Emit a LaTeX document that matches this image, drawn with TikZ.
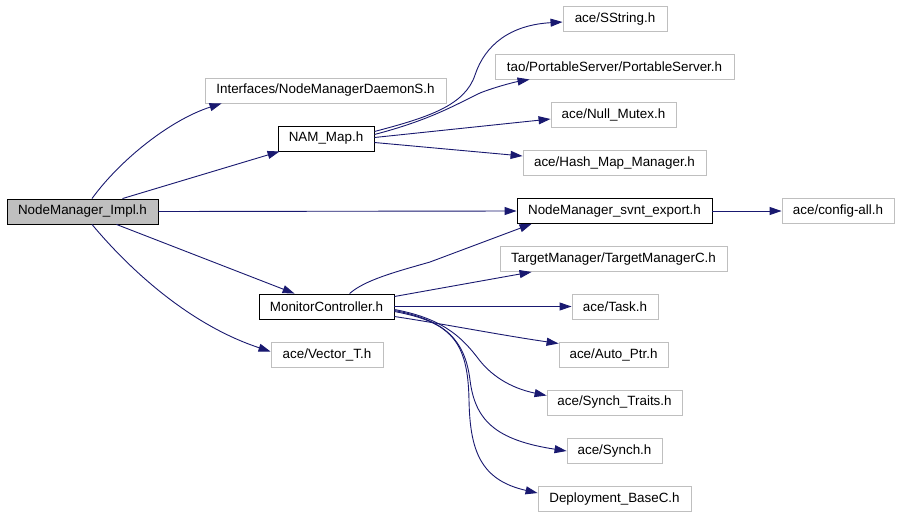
\documentclass[tikz,border=0pt]{standalone}
\usepackage{fontspec}
\setmainfont{Liberation Sans}
\usetikzlibrary{arrows.meta}
\definecolor{edgec}{HTML}{191970}
\definecolor{leafc}{HTML}{BFBFBF}
\tikzset{
  box/.style={draw, rectangle, inner sep=0pt, minimum height=25pt, line width=0.9pt, font=\fontsize{13.4}{15}\selectfont, text=black},
  leaf/.style={box, draw=leafc},
  inner/.style={box, draw=black},
  root/.style={box, draw=black, fill=leafc},
  edge/.style={draw=edgec, line width=0.9pt, -{Triangle[length=12pt,width=8pt]}, fill=none},
}
\begin{document}
\begin{tikzpicture}[x=1pt,y=-1pt]
\useasboundingbox (0,0) rectangle (899,515);
\fill[white] (0,0) rectangle (899,515);
% nodes
\node[root, minimum width=151pt] (impl) at (82.5,211.5) {NodeManager\_Impl.h};
\node[leaf, minimum width=241pt] (daemon) at (325.5,90.5) {Interfaces/NodeManagerDaemonS.h};
\node[inner, minimum width=96pt] (nam) at (326,138.5) {NAM\_Map.h};
\node[leaf, minimum width=104pt] (sstring) at (615,19) {ace/SString.h};
\node[leaf, minimum width=239pt] (ps) at (614.5,66.5) {tao/PortableServer/PortableServer.h};
\node[leaf, minimum width=125pt] (null) at (613.5,115) {ace/Null\_Mutex.h};
\node[leaf, minimum width=183pt] (hash) at (614.5,163) {ace/Hash\_Map\_Manager.h};
\node[inner, minimum width=195pt] (svnt) at (614.5,211) {NodeManager\_svnt\_export.h};
\node[leaf, minimum width=112pt] (config) at (838,211) {ace/config-all.h};
\node[leaf, minimum width=227pt] (tm) at (613.5,259) {TargetManager/TargetManagerC.h};
\node[inner, minimum width=135pt] (mc) at (326.5,306.5) {MonitorController.h};
\node[leaf, minimum width=86pt] (task) at (615,306.5) {ace/Task.h};
\node[leaf, minimum width=112pt] (vector) at (327,354.5) {ace/Vector\_T.h};
\node[leaf, minimum width=109pt] (auto) at (613.5,354.5) {ace/Auto\_Ptr.h};
\node[leaf, minimum width=135pt] (st) at (614.5,402.5) {ace/Synch\_Traits.h};
\node[leaf, minimum width=95pt] (synch) at (614.5,451) {ace/Synch.h};
\node[leaf, minimum width=153pt] (deploy) at (614.5,499) {Deployment\_BaseC.h};
% edges from impl
\draw[edge] ([xshift=9.5pt]impl.north) .. controls (120,160) and (170,120) .. ([xshift=17pt]daemon.south west);
\draw[edge] ([xshift=40pt]impl.north) -- ([xshift=2pt]nam.south west);
\draw[edge] (impl.east) -- (svnt.west);
\draw[edge] ([xshift=34pt]impl.south) -- ([xshift=36pt]mc.north west);
\draw[edge] ([xshift=9.5pt]impl.south) .. controls (130,270) and (190,325) .. ([yshift=3pt]vector.west);
% edges from nam
\draw[edge] ([yshift=7pt]nam.east) .. controls (430,117) and (465,105) .. (475,75) .. controls (485,45) and (510,25) .. ([yshift=-3pt]sstring.west);
\draw[edge] ([yshift=4pt]nam.east) .. controls (430,120) and (455,105) .. (480,93) .. controls (495,87) and (515,82) .. ([xshift=35pt]ps.south west);
\draw[edge] ([yshift=1pt]nam.east) -- ([yshift=-4pt]null.west);
\draw[edge] ([yshift=-4pt]nam.east) -- ([yshift=7pt]hash.west);
% svnt
\draw[edge] (svnt.east) -- (config.west);
% edges from mc
\draw[edge] ([xshift=91pt]mc.north west) .. controls (365,280) and (395,272) .. (430,262) -- ([xshift=15pt]svnt.south west);
\draw[edge] ([yshift=10pt]mc.east) -- ([xshift=32pt]tm.south west);
\draw[edge] (mc.east) -- (task.west);
\draw[edge] ([yshift=-10pt]mc.east) .. controls (450,325) and (500,335) .. ([yshift=11pt]auto.west);
\draw[edge] ([yshift=-3pt]mc.east) .. controls (440,318) and (460,335) .. (477,357) .. controls (490,375) and (510,388) .. ([yshift=7pt]st.west);
\draw[edge] ([yshift=-4pt]mc.east) .. controls (445,320) and (465,340) .. (470,380) .. controls (475,420) and (495,440) .. (synch.west);
\draw[edge] ([yshift=-5pt]mc.east) .. controls (450,322) and (468,340) .. (469,400) .. controls (470,450) and (480,480) .. ([yshift=6pt]deploy.west);
\end{tikzpicture}
\end{document}
